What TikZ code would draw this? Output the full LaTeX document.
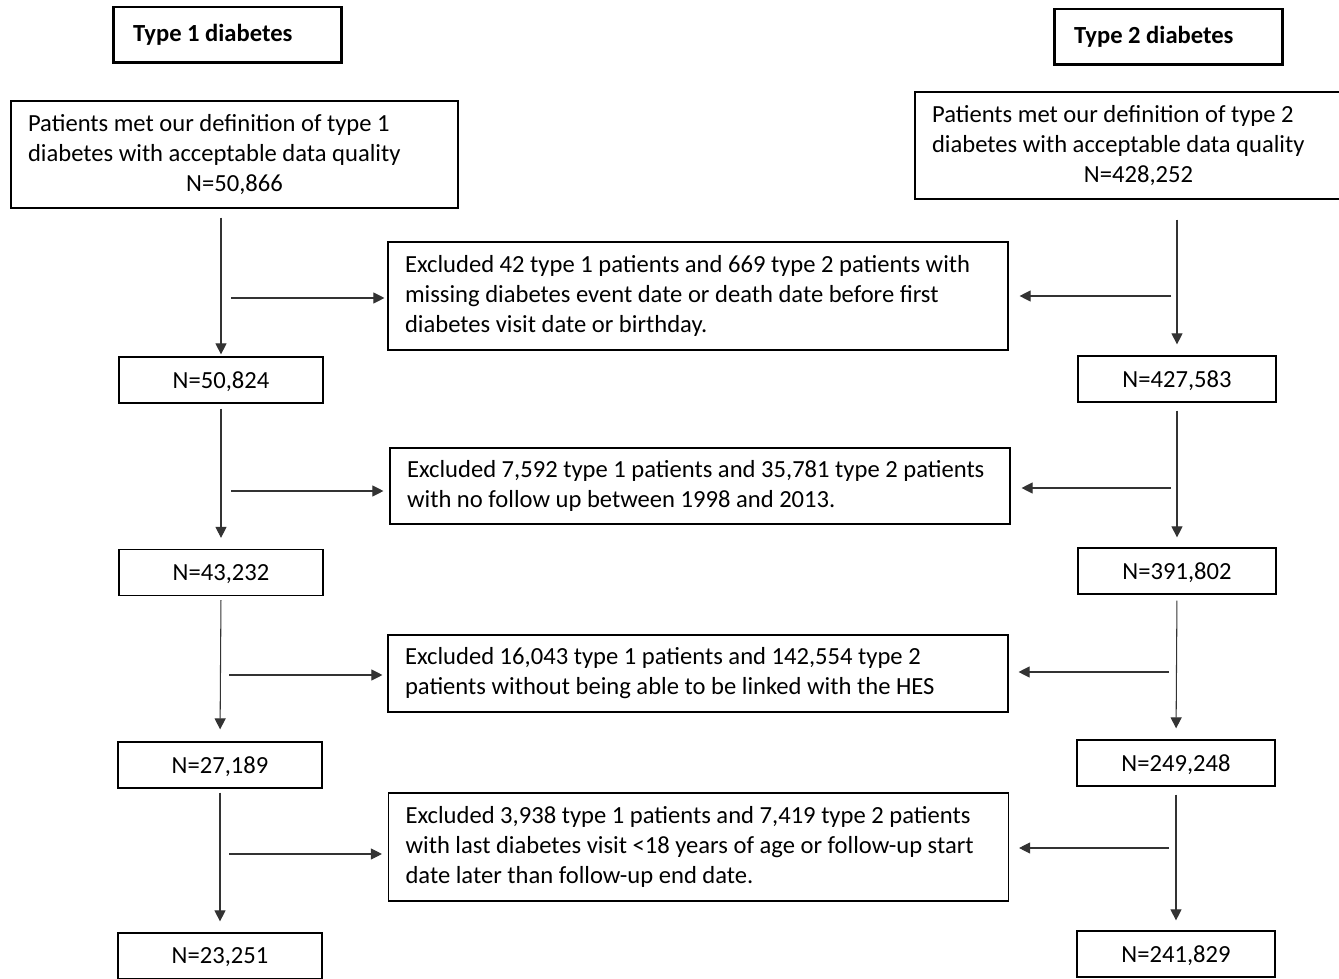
\documentclass[tikz,border=0pt]{standalone}
\usepackage{fontspec}
\setmainfont{Carlito}
\usepackage{tikz}
\usetikzlibrary{positioning,arrows.meta}

\begin{document}
\begin{tikzpicture}[
  x=0.02cm, y=-0.02cm,
  font=\fontsize{14}{17}\selectfont,
  every node/.style={execute at begin node={\spaceskip=0pt\xspaceskip=0pt}},
  hdr/.style={
    rectangle, draw, line width=1.7pt, font=\fontsize{14}{17}\selectfont\bfseries,
    minimum width=4.58cm, minimum height=1.12cm,
    text width=3.78cm, inner xsep=0.4cm, align=flush left
  },
  mainbox/.style={
    rectangle, draw, line width=0.7pt,
    minimum height=2.14cm, text width=8.26cm, inner xsep=0.34cm, align=flush left
  },
  count/.style={
    rectangle, draw, line width=0.7pt, text depth=0pt,
    minimum width=4.08cm, minimum height=0.92cm, inner sep=0pt
  },
  excl/.style={
    rectangle, draw, line width=0.7pt,
    text width=11.72cm, inner xsep=0.34cm, align=flush left
  },
  arr/.style={-{Triangle[length=0.22cm, width=0.22cm]}, line width=0.6pt, draw=black!80}
]
\clip (0,0) rectangle (1339,979);

% Headers
\node[hdr] (h1) at (227.5,35) {Type 1 diabetes};
\node[hdr] (h2) at (1168.5,37) {Type 2 diabetes};

% Starting cohorts
\node[mainbox] (t1) at (234.5,154.5) {%
  Patients met our definition of type 1\\
  diabetes with acceptable data quality\\
  \hspace*{\fill}N=50,866\hspace*{\fill}
};
\node[mainbox] (t2) at (1138.5,145.5) {%
  Patients met our definition of type 2\\
  diabetes with acceptable data quality\\
  \hspace*{\fill}N=428,252\hspace*{\fill}
};

% Exclusions
\node[excl, minimum height=2.16cm] (e1) at (698,296) {%
  Excluded 42 type 1 patients and 669 type 2 patients with\\
  missing diabetes event date or death date before first\\
  diabetes visit date or birthday.
};
\node[excl, minimum height=1.52cm] (e2) at (700,486) {%
  Excluded 7,592 type 1 patients and 35,781 type 2 patients\\
  with no follow up between 1998 and 2013.
};
\node[excl, minimum height=1.54cm] (e3) at (698,673.5) {%
  Excluded 16,043 type 1 patients and 142,554 type 2\\
  patients without being able to be linked with the HES
};
\node[excl, minimum height=2.16cm] (e4) at (698.5,847) {%
  Excluded 3,938 type 1 patients and 7,419 type 2 patients\\
  with last diabetes visit <18 years of age or follow-up start\\
  date later than follow-up end date.
};

% Counts, type 1
\node[count] (c1a) at (221,380) {N=50,824};
\node[count] (c2a) at (221,572.5) {N=43,232};
\node[count] (c3a) at (220,765) {N=27,189};
\node[count] (c4a) at (220,956) {N=23,251};

% Counts, type 2
\node[count, minimum width=3.96cm] (c1b) at (1177,379) {N=427,583};
\node[count, minimum width=3.96cm] (c2b) at (1177,571) {N=391,802};
\node[count, minimum width=3.96cm] (c3b) at (1176,763) {N=249,248};
\node[count, minimum width=3.96cm] (c4b) at (1176,954) {N=241,829};

% Branch points
\coordinate (l1) at (231,298);
\coordinate (l2) at (231,491);
\coordinate (l3) at (229,675);
\coordinate (l4) at (229,854);
\coordinate (r1) at (1171,296);
\coordinate (r2) at (1171,488);
\coordinate (r3) at (1169,672);
\coordinate (r4) at (1169,848);

% Type 1 flow
\draw[arr, shorten <=0.18cm, shorten >=0.04cm] (c1a.north |- t1.south) -- (c1a.north);
\draw[arr, shorten <=0.1cm, shorten >=0.22cm] (c1a.south) -- (c2a.north);
\draw[arr, shorten <=0.08cm, shorten >=0.24cm] (c2a.south) -- (c3a.north);
\draw[arr, shorten <=0.08cm, shorten >=0.22cm] (c3a.south) -- (c4a.north);

% Type 2 flow
\draw[arr, shorten <=0.4cm, shorten >=0.22cm] (c1b.north |- t2.south) -- (c1b.north);
\draw[arr, shorten <=0.16cm, shorten >=0.2cm] (c1b.south) -- (c2b.north);
\draw[arr, shorten <=0.12cm, shorten >=0.22cm] (c2b.south) -- (c3b.north);
\draw[arr, shorten <=0.16cm, shorten >=0.2cm] (c3b.south) -- (c4b.north);

% Into the exclusion boxes
\draw[arr, shorten >=0.06cm] (l1) -- (l1 -| e1.west);
\draw[arr, shorten >=0.12cm] (l2) -- (l2 -| e2.west);
\draw[arr, shorten >=0.1cm] (l3) -- (l3 -| e3.west);
\draw[arr, shorten >=0.12cm] (l4) -- (l4 -| e4.west);
\draw[arr, shorten >=0.22cm] (r1) -- (r1 -| e1.east);
\draw[arr, shorten >=0.22cm] (r2) -- (r2 -| e2.east);
\draw[arr, shorten >=0.2cm] (r3) -- (r3 -| e3.east);
\draw[arr, shorten >=0.2cm] (r4) -- (r4 -| e4.east);
\end{tikzpicture}
\end{document}
